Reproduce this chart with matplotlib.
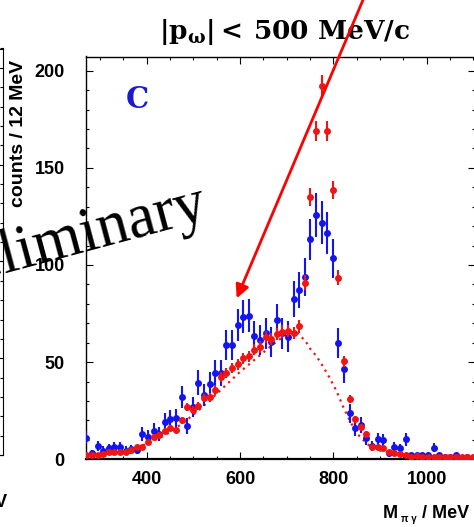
import numpy as np
import matplotlib
matplotlib.use("Agg")
import matplotlib.pyplot as plt
from matplotlib.ticker import MultipleLocator

plt.rcParams['font.family'] = ['Liberation Sans', 'DejaVu Sans']
plt.rcParams['font.weight'] = 'bold'
plt.rcParams['mathtext.fontset'] = 'dejavuserif'

# 12 MeV bins, histogram starts at 265 MeV
BIN_LO = 265
BIN_W = 12

# red points (background sample)
red_counts = [2, 2, 2, 2.5, 3.5, 3.5, 4, 4, 5, 6.5,
              6.5, 9, 11.5, 12.5, 14.5, 16, 15, 20, 27, 25.5,
              27.5, 31.5, 32, 35.7, 42.5, 44.5, 47, 49, 52, 53,
              56.5, 58, 63, 62, 64.5, 65.7, 66, 65, 68.5, 90.9,
              135, 169, 192, 169, 138.6, 93.5, 50.5, 31, 20.5, 16.5,
              13, 6.5, 6.5, 6, 4, 3.2, 2.8, 2.2, 1.4, 1.6,
              1.4, 1.4, 1.4, 1.4, 1, 1, 1, 1, 1, 1]

# blue points (signal sample)
blue_counts = [11, 3, 7, 4.5, 5.7, 6.2, 6.2, 4.5, 5.1, 4.8,
               12.9, 11.7, 14.8, 13, 19.4, 20.6, 21.1, 32.2, 17.2, 27.1,
               39.5, 33, 38.6, 44.6, 44.5, 59, 59, 69, 73.4, 74,
               63.4, 61.4, 64.8, 60.5, 71.7, 64.8, 63.1, 82.5, 87, 93.7,
               113.2, 125.7, 121.8, 116.5, 103.4, 59.7, 46.3, 23.7, 16, 17.7,
               10.8, 7, 10.3, 10, 3.1, 6.5, 5.7, 10.3, 2, 2,
               2, 2, 6, 2, 1, 1, 2, 0.5, 1, 0.5]

# dotted background fit
fit_x = [280, 320, 360, 400, 440, 480, 520, 560, 600, 640, 680, 700, 720,
         740, 750, 764, 778, 793, 807, 821, 835, 850, 864, 879, 900, 930,
         970, 1020, 1100]
fit_y = [2, 3, 4.5, 8, 12.5, 19, 27, 36, 45, 53, 61, 64, 65.5,
         61, 57, 53, 47.7, 41.5, 35, 27, 20, 13.4, 10, 6.5, 4.5, 3,
         2, 1.3, 1]

RED = "#f01414"
BLUE = "#1414f0"

centers = BIN_LO + BIN_W / 2 + BIN_W * np.arange(len(red_counts))
red_arr = np.array(red_counts)
blue_arr = np.array(blue_counts)

W, H = 474, 527
fig = plt.figure(figsize=(W / 100, H / 100), dpi=100)


def fx(x):
    return x / W


def fy(y):
    return 1 - y / H


# neighbouring panel, only its right edge shows
nb = fig.add_axes([-0.5, fy(455), 0.5 + 3.5 / W, (455 - 48.5) / H])
nb.set_xticks([])
nb.set_ylim(0, 210)
nb.yaxis.set_major_locator(MultipleLocator(50))
nb.yaxis.set_minor_locator(MultipleLocator(10))
nb.tick_params(which='both', direction='in', left=False, right=True,
               labelleft=False, labelright=False, width=0.8)
nb.tick_params(which='major', length=5)
nb.tick_params(which='minor', length=2.5)

ax = fig.add_axes([fx(85.5), fy(459.3), (475 - 85.5) / W, (459.3 - 56.5) / H])

ax.errorbar(centers, blue_arr, yerr=np.sqrt(blue_arr), fmt='o', color=BLUE,
            ms=5, mew=0, elinewidth=1.5, capsize=0, zorder=3)
ax.plot(fit_x, fit_y, ls=(0, (1, 2)), color=RED, lw=1.6, zorder=2)
ax.errorbar(centers, red_arr, yerr=0.4 * np.sqrt(red_arr), xerr=3, fmt='o',
            color=RED, ms=5, mew=0, elinewidth=1.5, capsize=0, zorder=4)

ax.set_xlim(268.9, 1103.5)
ax.set_ylim(0, 207.3)
ax.xaxis.set_major_locator(MultipleLocator(200))
ax.xaxis.set_minor_locator(MultipleLocator(50))
ax.yaxis.set_major_locator(MultipleLocator(50))
ax.yaxis.set_minor_locator(MultipleLocator(10))
ax.tick_params(which='both', direction='in', top=True, right=True, width=0.8,
               labelsize=13)
ax.tick_params(which='major', length=5)
ax.tick_params(which='minor', length=2.5)
ax.tick_params(axis='y', pad=15)
ax.tick_params(axis='x', pad=8.5)
for s in ax.spines.values():
    s.set_linewidth(1.0)
ax.spines['bottom'].set_linewidth(1.6)

# overlay in pixel coordinates for texts and the arrow
ov = fig.add_axes([0, 0, 1, 1])
ov.set_xlim(0, W)
ov.set_ylim(H, 0)
ov.axis('off')

ov.text(285, 32, r'$\mathbf{|p_{\omega}|{<}\,500\ MeV/c}$', fontsize=19,
        ha='center', va='center')
ov.text(137, 100, 'C', fontsize=21, family='DejaVu Serif', weight='bold',
        color='#1a1ad0', ha='center', va='center')
ov.text(19, 60, 'counts / 12 MeV', fontsize=14, rotation=90,
        ha='center', va='top')
ov.text(-75, 294, 'Preliminary', fontsize=45, family='Liberation Serif',
        weight='normal', rotation=15, rotation_mode='anchor',
        ha='left', va='baseline')

ov.text(383, 518, 'M', fontsize=13, ha='left', va='baseline')
ov.text(401, 522, 'π γ', fontsize=7, ha='left', va='baseline')
ov.text(422, 518, '/ MeV', fontsize=13, ha='left', va='baseline')
ov.text(8, 507, 'MeV', fontsize=13, ha='right', va='baseline')

ov.annotate('', xy=(236.7, 298.3), xytext=(367.2, -10),
            arrowprops=dict(arrowstyle='-|>', color='red', lw=2,
                            mutation_scale=20, shrinkA=0, shrinkB=0),
            annotation_clip=False)

fig.savefig('out.png', dpi=100)
